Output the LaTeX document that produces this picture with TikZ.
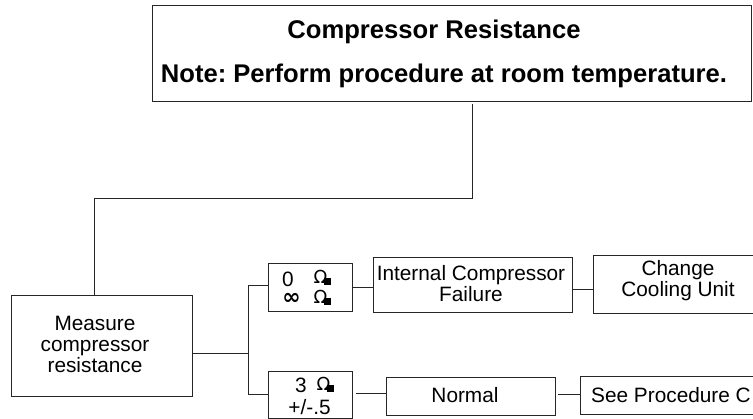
\documentclass[tikz,border=0pt]{standalone}
\usepackage{fontspec}
\setmainfont{Liberation Sans}
\newfontfamily\symfont{DejaVu Sans}
\frenchspacing
\tikzset{
 blk/.style={draw=black!85,line width=1pt,fill=white,inner sep=0pt,anchor=north west},
 lab/.style={inner sep=0pt,align=center,font=\fontsize{20.8}{21}\selectfont},
 head/.style={inner sep=0pt,font=\bfseries\fontsize{25.6}{26}\selectfont},
 ohmg/.style={inner sep=0pt,font=\symfont\fontsize{18}{18}\selectfont},
 conn/.style={draw=black!85,line width=1pt},
}
% name, left x and top y of the omega
\newcommand{\ohmat}[3]{%
 \node[ohmg,anchor=center] (#1) at (#2+6.5,#3+6) {Ω};
 \fill ([xshift=3.5pt,yshift=-8pt]#1.center) rectangle ([xshift=10pt,yshift=-1.5pt]#1.center);
}
\begin{document}
\begin{tikzpicture}[x=1pt,y=-1pt]
\useasboundingbox (0,0) rectangle (753,419);
\clip (0,0) rectangle (753,419);
\node[blk,minimum width=599pt,minimum height=96pt] (top) at (152,5) {};
\node[head] (t1) at (434,32) {Compressor Resistance};
\node[head] (t2) at (444,76) {Note: Perform procedure at room temperature.};
\node[blk,minimum width=181pt,minimum height=101pt] (meas) at (11,295) {};
\node[lab] (mt) at (95,344) {Measure\\compressor\\resistance};
\node[blk,minimum width=84pt,minimum height=48pt] (zero) at (268,263) {};
\node[lab] (z0) at (288,279) {0};
\ohmat{o1}{314}{271}
\node[inner sep=0pt,font=\symfont\bfseries\fontsize{22}{22}\selectfont] (z1) at (291.5,298.5) {∞};
\ohmat{o2}{314}{291}
\node[blk,minimum width=84pt,minimum height=47pt] (three) at (268,371) {};
\node[lab] (z3) at (301,385) {3};
\ohmat{o3}{317}{378}
\node[lab] (pm) at (309.5,407) {+/-.5};
\node[blk,minimum width=199pt,minimum height=55pt] (fail) at (373,257) {};
\node[lab] (ft) at (471,283.5) {Internal Compressor\\Failure};
\node[blk,minimum width=170pt,minimum height=58pt] (cool) at (593,255) {};
\node[lab] (ct) at (678,281) {Change\\Cooling Unit};
\node[blk,minimum width=169pt,minimum height=38pt] (norm) at (386,377) {};
\node[lab] (nt) at (465,395) {Normal};
\node[blk,minimum width=180pt,minimum height=38pt] (proc) at (580,376) {};
\node[lab] (pt) at (671,395) {See Procedure C};
\coordinate (s1) at (472,199);
\coordinate (s2) at (94,199);
\coordinate (bus) at (248,354);
\coordinate (bt) at (248,286);
\coordinate (bb) at (248,395);
\coordinate (c1) at (362,288);
\coordinate (c2) at (582,290);
\coordinate (c3) at (370,394);
\coordinate (c4) at (568,395);
\draw[conn,shorten <=2pt] (top.south -| s1) -- (s1) -- (s2) -- (meas.north -| s2);
\draw[conn] (meas.east |- bus) -- (bus);
\draw[conn] (zero.west |- bt) -- (bt) -- (bb) -- (three.west |- bb);
\draw[conn] (zero.east |- c1) -- (fail.west |- c1);
\draw[conn] (fail.east |- c2) -- (cool.west |- c2);
\draw[conn,shorten <=3pt] (three.east |- c3) -- (norm.west |- c3);
\draw[conn,shorten <=2pt] (norm.east |- c4) -- (proc.west |- c4);
\end{tikzpicture}
\end{document}
